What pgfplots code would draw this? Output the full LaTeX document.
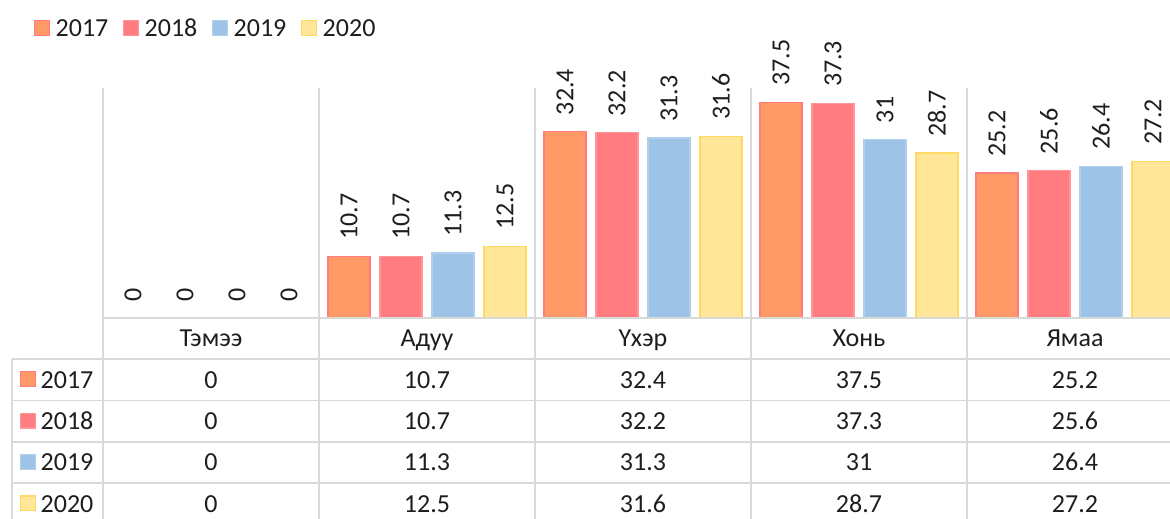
\documentclass[border=0pt]{standalone}
\usepackage{fontspec}
\setmainfont{Carlito}
\usepackage{pgfplots}
\pgfplotsset{compat=1.18}
\definecolor{cA}{HTML}{FF9966}
\definecolor{cAb}{HTML}{FF7C80}
\definecolor{cB}{HTML}{FF7C80}
\definecolor{cBb}{HTML}{FF9599}
\definecolor{cC}{HTML}{9DC3E6}
\definecolor{cCb}{HTML}{B0CFEC}
\definecolor{cD}{HTML}{FFE699}
\definecolor{cDb}{HTML}{FFD966}
\definecolor{gridc}{HTML}{D9D9D9}
\definecolor{txt}{HTML}{1E1E1E}
\newcommand\bigf{\fontsize{26}{31}\selectfont}
\begin{document}
\bigf
\begin{tikzpicture}[x=1pt,y=1pt]
\path[use as bounding box] (0,0) rectangle (1170,519);
\clip (0,0) rectangle (1170,519);
% table and separator lines
\foreach \x in {103,319,535,751,967} \draw[gridc, line width=1.5pt] (\x,431) -- (\x,-10);
\draw[gridc, line width=1.5pt] (12,160) -- (12,-10);
\foreach \y in {160,118.5,77,36} \draw[gridc, line width=1.5pt] (12,\y) -- (1200,\y);
\begin{axis}[
  at={(103pt,201pt)}, anchor=south west,
  scale only axis, width=1080pt, height=230pt,
  xmin=-0.5, xmax=4.5, ymin=0, ymax=40,
  hide axis, clip=false,
  ybar=10pt, bar width=42pt,
  /pgf/number format/assume math mode=true,
  nodes near coords,
  every node near coord/.append style={rotate=90, anchor=west, font=\bigf,
     inner xsep=16pt, inner ysep=0pt, text=txt},
]
\addplot[fill=cA, draw=cAb, line width=1.2pt] coordinates {(0,0) (1,10.7) (2,32.4) (3,37.5) (4,25.2)};
\addplot[fill=cB, draw=cBb, line width=1.2pt] coordinates {(0,0) (1,10.7) (2,32.2) (3,37.3) (4,25.6)};
\addplot[fill=cC, draw=cCb, line width=1.2pt] coordinates {(0,0) (1,11.3) (2,31.3) (3,31) (4,26.4)};
\addplot[fill=cD, draw=cDb, line width=1.2pt] coordinates {(0,0) (1,12.5) (2,31.6) (3,28.7) (4,27.2)};
\end{axis}
\draw[gridc, line width=1.6pt] (103,201) -- (1200,201);
% legend (top)
\foreach \xs/\fc/\dc/\lab in {34/cA/cAb/2017, 123/cB/cBb/2018, 212/cC/cCb/2019, 301/cD/cDb/2020}{
  \draw[fill=\fc, draw=\dc, line width=1.2pt] (\xs+0.6,483.6) rectangle (\xs+15.4,498.4);
  \node[anchor=base west, inner sep=0pt, text=txt] at (\xs+21.5,482.3) {\lab};
}
% category names
\foreach \xc/\lab in {211/Тэмээ, 427/Адуу, 643/Үхэр, 859/Хонь, 1075/Ямаа}
  \node[anchor=base, inner sep=0pt, text=txt] at (\xc,172.5) {\lab};
% table rows
\foreach \yb/\fc/\dc/\lab/\va/\vb/\vc/\vd/\ve in {
  130.7/cA/cAb/2017/0/10.7/32.4/37.5/25.2,
  89.4/cB/cBb/2018/0/10.7/32.2/37.3/25.6,
  48/cC/cCb/2019/0/11.3/31.3/31/26.4,
  6.5/cD/cDb/2020/0/12.5/31.6/28.7/27.2}{
  \draw[fill=\fc, draw=\dc, line width=1.2pt] (20.6,\yb+1.6) rectangle (35.4,\yb+16.4);
  \node[anchor=base west, inner sep=0pt, text=txt] at (40.5,\yb) {\lab};
  \node[anchor=base, inner sep=0pt, text=txt] at (211,\yb) {\va};
  \node[anchor=base, inner sep=0pt, text=txt] at (427,\yb) {\vb};
  \node[anchor=base, inner sep=0pt, text=txt] at (643,\yb) {\vc};
  \node[anchor=base, inner sep=0pt, text=txt] at (859,\yb) {\vd};
  \node[anchor=base, inner sep=0pt, text=txt] at (1075,\yb) {\ve};
}
\end{tikzpicture}
\end{document}
